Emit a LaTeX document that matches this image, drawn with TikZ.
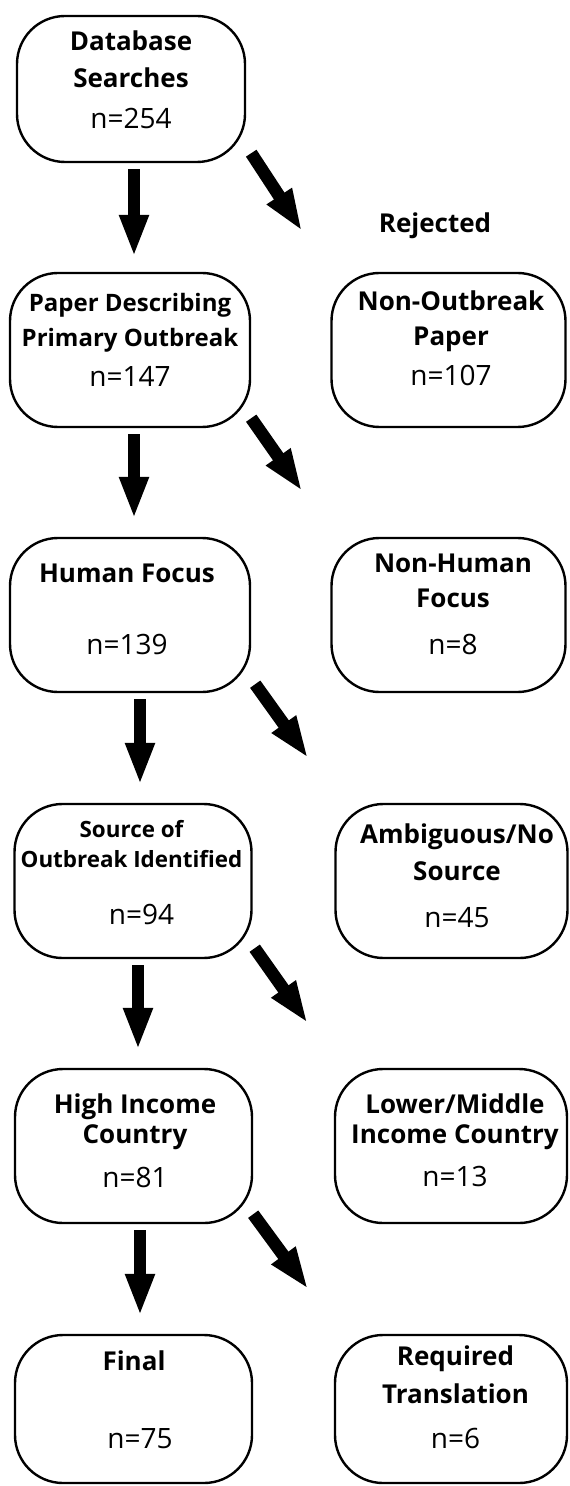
\documentclass[tikz,border=0pt]{standalone}
\usepackage{fontspec}
\setmainfont{Open Sans}
\usetikzlibrary{arrows.meta,calc}
\newcommand\nn[1]{\fontsize{14}{15}\selectfont\mdseries #1}
\begin{document}
\begin{tikzpicture}[x=0.5pt,y=-0.5pt,
  box/.style={draw, line width=1.2pt, rounded corners=24pt, inner sep=0pt, minimum height=77pt},
  txt/.style={anchor=north, align=center, inner sep=0pt, font=\fontsize{13}{15}\selectfont\bfseries},
  blockarrow/.style={line width=6.3pt, -{Triangle[width=13.5pt,length=21pt]}},
  down/.style={blockarrow, shorten <=3pt, shorten >=9pt},
]
\useasboundingbox (0,0) rectangle (569,1486);

% boxes
\node[box, minimum width=114pt, minimum height=73pt] (db) at (131,89) {};
\node[box, minimum width=120pt] (pd) at (130,350) {};
\node[box, minimum width=117pt] (no) at (448.5,350) {};
\node[box, minimum width=120pt] (hf) at (130,615) {};
\node[box, minimum width=117pt] (nh) at (448.5,615) {};
\node[box, minimum width=118.5pt] (so) at (133,881) {};
\node[box, minimum width=116pt] (am) at (451.5,881) {};
\node[box, minimum width=118.5pt] (hi) at (133.5,1146) {};
\node[box, minimum width=116pt] (lm) at (451,1146) {};
\node[box, minimum width=118.5pt, minimum height=74pt] (fi) at (133.5,1409) {};
\node[box, minimum width=116pt, minimum height=74pt] (rt) at (451,1409) {};

% texts
\node[txt] (dbt) at (131,30) {Database\\[3.5pt]Searches\\[5.5pt]\nn{n=254}};
\node[txt, font=\fontsize{12}{15}\selectfont\bfseries] (pdt) at (130,293) {Paper Describing\\[2.5pt]Primary Outbreak\\[5pt]\nn{n=147}};
\node[txt] (not) at (451,290) {Non-Outbreak\\[2.5pt]Paper\\[5pt]\nn{n=107}};
\node[txt] (hft) at (127,564) {Human Focus\\[21pt]\nn{n=139}};
\node[txt] (nht) at (453,554) {Non-Human\\[2.5pt]Focus\\[8.5pt]\nn{n=8}};
\node[txt, font=\fontsize{11.2}{15}\selectfont\bfseries] (sot) at (131.5,820) {Source of\\[0pt]Outbreak Identified\\[13.5pt]\nn{\hspace*{10pt}n=94}};
\node[txt] (amt) at (457,823) {Ambiguous/No\\[3.5pt]Source\\[8.5pt]\nn{n=45}};
\node[txt] (hit) at (135,1093) {High Income\\[0pt]Country\\[7pt]\nn{n=81}};
\node[txt] (lmt) at (455,1093) {Lower/Middle\\[0pt]Income Country\\[6.5pt]\nn{n=13}};
\node[txt] (fit) at (134,1350) {Final\\[24pt]\nn{\hspace*{6pt}n=75}};
\node[txt] (rtt) at (455.5,1345) {Required\\[4pt]Translation\\[7.5pt]\nn{n=6}};

\node[font=\fontsize{13}{15}\selectfont\bfseries, anchor=base, inner sep=0pt] (rej) at (435,233) {Rejected};

% vertical arrows
\coordinate (v1) at ($(db.south)+(3,0)$);
\coordinate (v2) at ($(pd.south)+(4,0)$);
\coordinate (v3) at ($(hf.south)+(10,0)$);
\coordinate (v4) at ($(so.south)+(5,0)$);
\coordinate (v5) at ($(hi.south)+(6.5,0)$);
\draw[down, shorten >=7.5pt] (v1) -- (v1 |- pd.north);
\draw[down] (v2) -- (v2 |- hf.north);
\draw[down] (v3) -- (v3 |- so.north);
\draw[down] (v4) -- (v4 |- hi.north);
\draw[down] (v5) -- (v5 |- fi.north);

% diagonal arrows
\coordinate (d1) at ($(db.south east)+(56,68)$);
\coordinate (d2) at ($(pd.south east)+(51,63)$);
\coordinate (d3) at ($(hf.south east)+(57,65)$);
\coordinate (d4) at ($(so.south east)+(55,64)$);
\coordinate (d5) at ($(hi.south east)+(55,65)$);
\draw[blockarrow] ($(db.south east)+(5,-10)$) -- (d1);
\draw[blockarrow] ($(pd.south east)+(0,-10)$) -- (d2);
\draw[blockarrow] ($(hf.south east)+(4,-9)$) -- (d3);
\draw[blockarrow] ($(so.south east)+(2,-11)$) -- (d4);
\draw[blockarrow] ($(hi.south east)+(0,-10)$) -- (d5);
\end{tikzpicture}
\end{document}
